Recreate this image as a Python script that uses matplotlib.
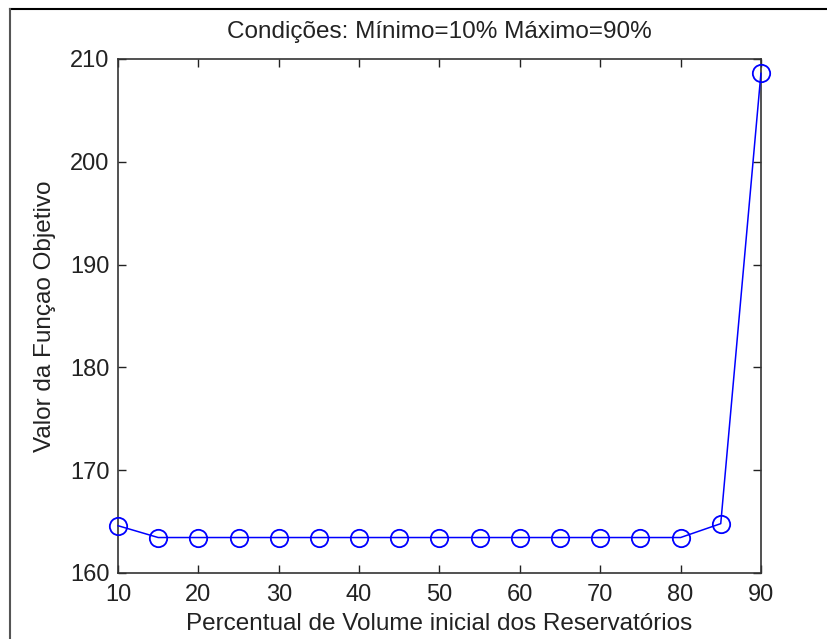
import matplotlib.pyplot as plt
from matplotlib.lines import Line2D

plt.rcParams['font.family'] = ['Liberation Sans', 'DejaVu Sans']

percentual = [10, 15, 20, 25, 30, 35, 40, 45, 50, 55, 60, 65, 70, 75, 80, 85, 90]
valor_fo = [164.6, 163.45, 163.45, 163.45, 163.45, 163.45, 163.45, 163.45, 163.45,
            163.45, 163.45, 163.45, 163.45, 163.45, 163.45, 164.8, 208.6]

x_ticks = [10, 20, 30, 40, 50, 60, 70, 80, 90]
y_ticks = [160, 170, 180, 190, 200, 210]

fig = plt.figure(figsize=(8.27, 6.39), dpi=100)
ax = fig.add_axes([0.1427, 0.1033, 0.7774, 0.8044])

ax.plot(percentual, valor_fo, '-o', color='#0000ff', lw=1.1, ms=12.5,
        mfc='none', mec='#0000ff', mew=1.3, clip_on=False, zorder=3)

ax.set_xlim(10, 90)
ax.set_ylim(160, 210)
ax.set_xticks(x_ticks)
ax.set_yticks(y_ticks)
ax.tick_params(direction='in', top=True, right=True, length=6, width=1,
               labelsize=17, colors='#222222')
ax.tick_params(axis='y', pad=6)
ax.tick_params(axis='x', pad=8)
for s in ax.spines.values():
    s.set_linewidth(1.2)
    s.set_color('#333333')

ax.set_title('Condições: Mínimo=10% Máximo=90%', fontsize=17.5, color='#222222', pad=15)
ax.set_xlabel('Percentual de Volume inicial dos Reservatórios', fontsize=17.5,
              color='#222222', labelpad=5)
ax.set_ylabel('Valor da Funçao Objetivo', fontsize=17.5, color='#222222', labelpad=10)

# moldura parcial da figura
W, H = 827, 639
fig.add_artist(Line2D([10 / W, 1], [1 - 9 / H, 1 - 9 / H], color='black', lw=1.5,
                      transform=fig.transFigure))
fig.add_artist(Line2D([10 / W, 10 / W], [0, 1 - 9 / H], color='#555555', lw=1.5,
                      transform=fig.transFigure))

fig.savefig('out.png', dpi=100)
